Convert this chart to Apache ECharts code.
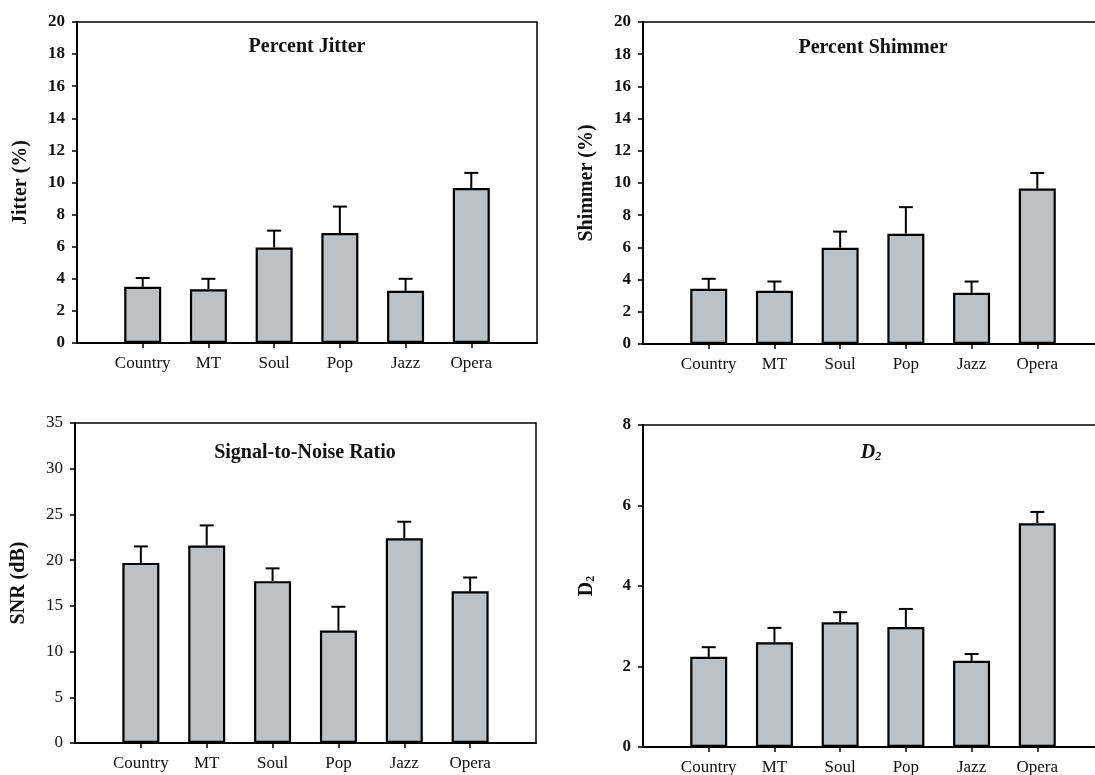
<!DOCTYPE html>
<html>
<head>
<meta charset="utf-8">
<script src="https://cdn.jsdelivr.net/npm/echarts@6/dist/echarts.min.js"></script>
<style>
  html, body { margin: 0; padding: 0; background: #fff; }
  #chart { width: 1095px; height: 775px; }
</style>
</head>
<body>
<div id="chart"></div>
<script>
var categories = ['Country', 'MT', 'Soul', 'Pop', 'Jazz', 'Opera'];

var jitterMean = [3.5, 3.35, 5.95, 6.85, 3.25, 9.65];
var jitterErr = [0.55, 0.65, 1.05, 1.65, 0.75, 0.95];

var shimmerMean = [3.43, 3.3, 5.98, 6.85, 3.18, 9.66];
var shimmerErr = [0.62, 0.58, 1.0, 1.65, 0.7, 0.96];

var snrMean = [19.7, 21.6, 17.7, 12.3, 22.4, 16.6];
var snrErr = [1.8, 2.2, 1.4, 2.6, 1.8, 1.5];

var d2Mean = [2.24, 2.6, 3.1, 2.98, 2.14, 5.56];
var d2Err = [0.24, 0.36, 0.25, 0.45, 0.17, 0.28];

var serif = '"Liberation Serif", "DejaVu Serif", serif';
var axisData = [''].concat(categories).concat([' ']);

var chart = echarts.init(document.getElementById('chart'));

function makeX(idx) {
  return {
    type: 'category',
    gridIndex: idx,
    data: axisData,
    boundaryGap: false,
    axisLine: { lineStyle: { color: '#000', width: 2 } },
    axisTick: {
      length: 5,
      lineStyle: { color: '#000', width: 1.5 },
      interval: function (i) { return i > 0 && i < axisData.length - 1; }
    },
    axisLabel: { interval: 0, color: '#111', fontFamily: serif, fontSize: 17, margin: 12 }
  };
}

function makeY(idx, max, step, name, bold) {
  return {
    type: 'value',
    gridIndex: idx,
    min: 0,
    max: max,
    interval: step,
    name: name,
    nameLocation: 'middle',
    nameGap: 46,
    nameTextStyle: {
      color: '#111', fontFamily: serif, fontSize: 20, fontWeight: 'bold',
      rich: {
        d: { fontFamily: serif, fontSize: 20, fontWeight: 'bold', color: '#111' },
        s: { fontFamily: serif, fontSize: 12, fontWeight: 'bold', color: '#111', verticalAlign: 'bottom', padding: [8, 0, 0, 0] }
      }
    },
    axisLine: { show: true, lineStyle: { color: '#000', width: 2 } },
    axisTick: { show: true, length: 5, lineStyle: { color: '#000', width: 1.5 } },
    axisLabel: { color: '#111', fontFamily: serif, fontSize: 17, fontWeight: bold ? 'bold' : 'normal', margin: 12 },
    splitLine: { show: false }
  };
}

function barSeries(idx, means) {
  return {
    type: 'bar',
    xAxisIndex: idx,
    yAxisIndex: idx,
    barWidth: 37,
    itemStyle: { color: '#bcc1c5', borderColor: '#000', borderWidth: 2.2 },
    data: categories.map(function (c, i) { return [c, means[i]]; }),
    z: 2
  };
}

function errSeries(idx, means, errs) {
  return {
    type: 'custom',
    xAxisIndex: idx,
    yAxisIndex: idx,
    z: 3,
    encode: { x: 0, y: [1, 2] },
    data: categories.map(function (c, i) { return [c, means[i], means[i] + errs[i]]; }),
    renderItem: function (params, api) {
      var lo = api.coord([api.value(0), api.value(1)]);
      var hi = api.coord([api.value(0), api.value(2)]);
      var st = { stroke: '#000', lineWidth: 2 };
      return {
        type: 'group',
        children: [
          { type: 'line', shape: { x1: lo[0], y1: lo[1], x2: hi[0], y2: hi[1] }, style: st },
          { type: 'line', shape: { x1: hi[0] - 7, y1: hi[1], x2: hi[0] + 7, y2: hi[1] }, style: st }
        ]
      };
    }
  };
}

function titleText(x, y, text, rich) {
  return {
    type: 'text',
    x: x,
    y: y,
    style: {
      text: text,
      align: 'center',
      verticalAlign: 'middle',
      font: 'bold 20px ' + serif,
      fill: '#111',
      rich: rich
    }
  };
}

var gridBox = { show: true, borderColor: '#000', borderWidth: 1.5, backgroundColor: 'transparent', outerBoundsMode: 'none', containLabel: false };

var option = {
  animation: false,
  backgroundColor: '#fff',
  grid: [
    Object.assign({ left: 77, top: 22, width: 460, height: 321 }, gridBox),
    Object.assign({ left: 643, top: 22, width: 460, height: 322 }, gridBox),
    Object.assign({ left: 75, top: 423, width: 461, height: 320 }, gridBox),
    Object.assign({ left: 643, top: 425, width: 460, height: 322 }, gridBox)
  ],
  xAxis: [makeX(0), makeX(1), makeX(2), makeX(3)],
  yAxis: [
    makeY(0, 20, 2, 'Jitter (%)', true),
    makeY(1, 20, 2, 'Shimmer (%)', true),
    makeY(2, 35, 5, 'SNR (dB)', false),
    makeY(3, 8, 2, '{d|D}{s|2}', true)
  ],
  series: [
    barSeries(0, jitterMean), errSeries(0, jitterMean, jitterErr),
    barSeries(1, shimmerMean), errSeries(1, shimmerMean, shimmerErr),
    barSeries(2, snrMean), errSeries(2, snrMean, snrErr),
    barSeries(3, d2Mean), errSeries(3, d2Mean, d2Err)
  ],
  graphic: [
    titleText(307, 47, 'Percent Jitter'),
    titleText(873, 48, 'Percent Shimmer'),
    titleText(305, 453, 'Signal-to-Noise Ratio'),
    titleText(871, 453, '{d|D}{s|2}', {
      d: { font: 'italic bold 20px ' + serif, fill: '#111' },
      s: { font: 'italic bold 12px ' + serif, fill: '#111', verticalAlign: 'bottom', padding: [8, 0, 0, 0] }
    })
  ]
};

chart.setOption(option);
</script>
</body>
</html>
